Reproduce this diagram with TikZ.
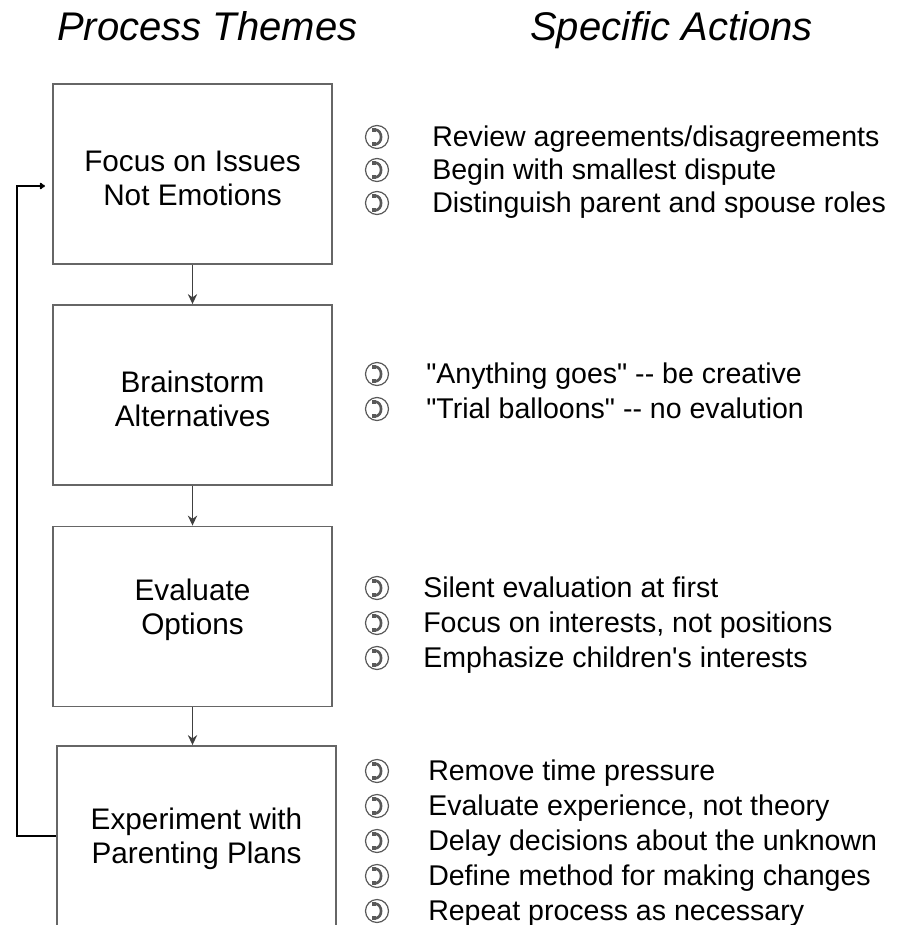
\documentclass[tikz,border=0pt]{standalone}
\usepackage{fontspec}
\setmainfont{Liberation Sans}[Ligatures=TeXOff]
\usetikzlibrary{arrows.meta}

\begin{document}
\begin{tikzpicture}[x=0.75pt,y=-0.75pt,
  heading/.style={anchor=base west, inner sep=0pt, font=\fontsize{30}{34}\selectfont\itshape},
  theme/.style={draw=black!60, line width=1.4pt, minimum width=279*0.75pt,
    minimum height=180*0.75pt, inner sep=0pt},
  themetext/.style={align=center, inner sep=0pt, font=\fontsize{22.3}{25.5}\selectfont},
  bullet/.style={circle, draw=black!65, line width=0.9pt, minimum size=23*0.75pt,
    inner sep=0pt, path picture={
      \begin{scope}[shift={(path picture bounding box.center)}]
        \draw[line width=2pt] (-1.6pt,5.6pt) .. controls (4.6pt,5.2pt) and (4.6pt,-5.2pt) .. (-1.6pt,-5.6pt);
        \draw[line width=3pt] (-3.6pt,5.4pt) -- (-0.6pt,5.4pt);
        \draw[line width=3pt] (-3.6pt,-5.4pt) -- (-0.6pt,-5.4pt);
      \end{scope}}},
  action/.style={anchor=base west, inner sep=0pt, font=\fontsize{21.4}{25}\selectfont},
  flow/.style={draw=black!75, line width=1pt, -{Stealth[length=7.5pt,width=7pt,inset=2.5pt]}},
  loopback/.style={draw=black, line width=1.6pt, -{To[length=4pt,width=5pt]}}]

\useasboundingbox (0,0) rectangle (903,925);
\clip (0,0) rectangle (903,925);

% column headings
\node[heading] (h1) at (57,40) {Process Themes};
\node[heading] (h2) at (530,40) {Specific Actions};

% process theme boxes
\node[theme] (a) at (192.5,174) {};
\node[theme] (b) at (192.5,395) {};
\node[theme] (c) at (192.5,616.5) {};
\node[theme] (d) at (196.5,836) {};
\node[themetext] (at) at (192.5,178.5) {Focus on Issues\\Not Emotions};
\node[themetext] (bt) at (192.5,399) {Brainstorm\\Alternatives};
\node[themetext] (ct) at (192.5,610) {Evaluate\\Options};
\node[themetext] (dt) at (196.5,839) {Experiment with\\Parenting Plans};

% flow between themes
\draw[flow] (a.south) -- (b.north);
\draw[flow] (b.south) -- (c.north);
\draw[flow] (c.south) -- (c.south |- d.north);

% loop back to the first theme
\coordinate (back) at (45,186);
\draw[loopback] (d.west) -- ++(-39,0) |- (back);

% specific actions
\foreach \y/\t [count=\i] in {146/{Review agreements/disagreements},
                               179/{Begin with smallest dispute},
                               212/{Distinguish parent and spouse roles}}{
  \node[bullet] (p1b\i) at (377,\y-9) {};
  \node[action] (p1t\i) at (432,\y) {\t};
}
\foreach \y/\t [count=\i] in {383/{"Anything goes" -- be creative},
                               418/{"Trial balloons" -- no evalution}}{
  \node[bullet] (p2b\i) at (377,\y-9) {};
  \node[action] (p2t\i) at (426,\y) {\t};
}
\foreach \y/\t [count=\i] in {597/{Silent evaluation at first},
                               632/{Focus on interests, not positions},
                               667/{Emphasize children's interests}}{
  \node[bullet] (p3b\i) at (377,\y-9) {};
  \node[action] (p3t\i) at (423,\y) {\t};
}
\foreach \y/\t [count=\i] in {780/{Remove time pressure},
                               815/{Evaluate experience, not theory},
                               850/{Delay decisions about the unknown},
                               885/{Define method for making changes},
                               920/{Repeat process as necessary}}{
  \node[bullet] (p4b\i) at (377,\y-9) {};
  \node[action] (p4t\i) at (428,\y) {\t};
}
\end{tikzpicture}
\end{document}
